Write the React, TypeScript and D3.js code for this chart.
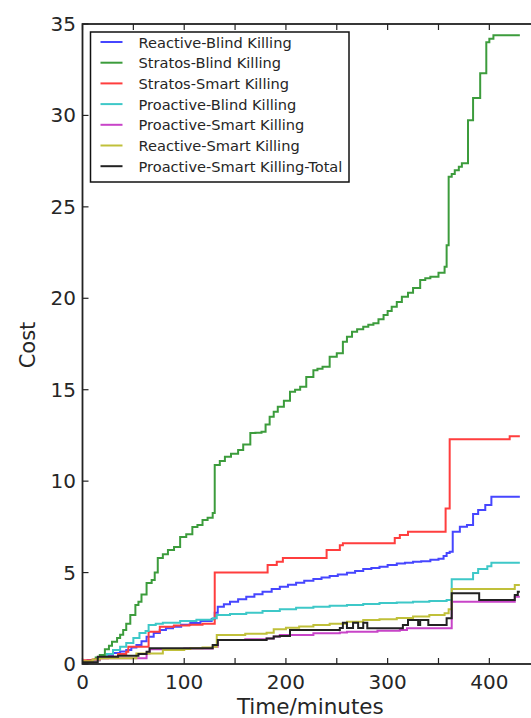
import * as d3 from 'd3';

// cost over time, step series: [minutes, cost]
const reactiveBlind: [number, number][] = [
  [0, 0.15], [5, 0.22], [12, 0.28], [17, 0.33], [24, 0.45], [30, 0.6], [37, 0.68], [43, 0.77], [48, 0.9],
  [53, 1.04], [58, 1.25], [63, 1.49], [70, 1.7], [76, 1.86], [82, 1.95], [89, 2.04], [97, 2.14], [106, 2.24],
  [116, 2.35], [127, 2.46], [130, 2.8], [133, 3.13], [139, 3.27], [145, 3.4], [153, 3.54], [161, 3.68],
  [169, 3.82], [177, 3.95], [186, 4.1], [194, 4.23], [202, 4.34], [210, 4.45], [218, 4.55], [227, 4.65],
  [235, 4.73], [243, 4.81], [251, 4.9], [260, 4.99], [268, 5.09], [276, 5.19], [284, 5.25], [292, 5.32],
  [300, 5.42], [309, 5.5], [317, 5.54], [325, 5.59], [333, 5.62], [342, 5.7], [350, 5.76], [355, 5.9],
  [358, 6.07], [361, 6.14], [364, 7.23], [371, 7.5], [378, 7.6], [384, 8.2], [389, 8.42], [396, 8.69],
  [402, 9.15], [430, 9.15],
];

const stratosBlind: [number, number][] = [
  [0, 0.1], [8, 0.2], [13, 0.35], [17, 0.49], [22, 0.8], [26, 1.0], [29, 1.22], [34, 1.42], [37, 1.6],
  [40, 1.86], [43, 2.2], [47, 2.68], [52, 3.23], [55, 3.4], [58, 3.8], [63, 4.43], [68, 4.6], [71, 5.0],
  [74, 5.8], [79, 6.0], [84, 6.23], [90, 6.4], [96, 6.94], [102, 7.1], [108, 7.49], [113, 7.6], [118, 7.87],
  [123, 8.0], [128, 8.26], [130, 10.88], [135, 11.1], [140, 11.33], [146, 11.5], [153, 11.7], [158, 12.0],
  [165, 12.63], [170, 12.65], [176, 12.7], [180, 13.1], [184, 13.52], [188, 13.8], [192, 14.07], [198, 14.4],
  [204, 14.89], [209, 15.0], [214, 15.16], [220, 15.7], [227, 16.07], [231, 16.15], [236, 16.25], [243, 16.8],
  [250, 17.0], [256, 17.62], [260, 17.9], [265, 18.17], [270, 18.3], [276, 18.44], [281, 18.55], [286, 18.64],
  [291, 18.85], [296, 19.08], [300, 19.3], [304, 19.54], [309, 19.8], [314, 20.08], [320, 20.3], [325, 20.56],
  [332, 21.0], [337, 21.1], [342, 21.18], [350, 21.4], [356, 21.72], [358, 22.9], [360, 26.64], [363, 26.8],
  [366, 27.0], [370, 27.2], [373, 27.39], [379, 29.74], [384, 30.95], [391, 32.31], [397, 34.0], [400, 34.2],
  [404, 34.39], [430, 34.39],
];

const stratosSmart: [number, number][] = [
  [0, 0.2], [10, 0.25], [17, 0.31], [25, 0.4], [35, 0.55], [43, 0.67], [45, 0.95], [65, 1.77], [76, 2.04],
  [90, 2.1], [105, 2.15], [118, 2.2], [130, 5.0], [182, 5.41], [191, 5.59], [197, 5.8], [240, 6.23],
  [253, 6.5], [256, 6.6], [307, 6.89], [312, 7.05], [320, 7.23], [357, 8.5], [361, 12.29], [420, 12.45],
  [430, 12.45],
];

const proactiveBlind: [number, number][] = [
  [0, 0.1], [10, 0.2], [17, 0.33], [24, 0.55], [30, 0.77], [37, 0.95], [43, 1.15], [50, 1.42], [56, 1.69],
  [62, 1.8], [65, 2.13], [72, 2.2], [79, 2.26], [96, 2.35], [112, 2.42], [128, 2.5], [132, 2.68], [145, 2.74],
  [161, 2.8], [177, 2.9], [194, 3.0], [210, 3.07], [227, 3.13], [243, 3.18], [260, 3.23], [276, 3.28],
  [292, 3.33], [309, 3.37], [325, 3.4], [341, 3.45], [358, 3.5], [363, 4.64], [384, 4.98], [389, 5.19],
  [398, 5.35], [402, 5.54], [430, 5.54],
];

const proactiveSmart: [number, number][] = [
  [0, 0.1], [10, 0.2], [17, 0.31], [63, 0.58], [66, 0.8], [100, 0.85], [128, 0.95], [133, 1.31], [160, 1.35],
  [181, 1.4], [188, 1.5], [194, 1.59], [227, 1.68], [253, 1.72], [260, 1.77], [290, 1.82], [312, 1.86],
  [319, 1.95], [361, 1.95], [363, 3.4], [425, 3.68], [430, 3.68],
];

const reactiveSmart: [number, number][] = [
  [0, 0.15], [10, 0.25], [17, 0.31], [53, 0.58], [79, 0.77], [100, 0.82], [106, 0.86], [118, 0.9],
  [128, 0.95], [132, 1.59], [160, 1.65], [181, 1.71], [188, 1.9], [200, 1.98], [213, 2.05], [227, 2.13],
  [243, 2.2], [260, 2.31], [276, 2.4], [292, 2.45], [309, 2.52], [325, 2.6], [341, 2.68], [356, 2.77],
  [360, 3.0], [363, 4.1], [425, 4.32], [430, 4.32],
];

const proactiveSmartTotal: [number, number][] = [
  [0, 0.1], [15, 0.4], [35, 0.45], [55, 0.55], [63, 0.67], [66, 0.86], [128, 1.04], [133, 1.31], [181, 1.4],
  [188, 1.5], [194, 1.53], [204, 1.86], [253, 1.97], [256, 2.25], [260, 1.97], [266, 2.25], [271, 1.97],
  [276, 2.25], [280, 1.95], [315, 2.13], [320, 2.41], [330, 2.13], [332, 2.41], [340, 2.13], [358, 2.5],
  [363, 3.87], [390, 3.5], [425, 3.77], [428, 3.95], [430, 3.95],
];

const seriesNames = [
  'Reactive-Blind Killing',
  'Stratos-Blind Killing',
  'Stratos-Smart Killing',
  'Proactive-Blind Killing',
  'Proactive-Smart Killing',
  'Reactive-Smart Killing',
  'Proactive-Smart Killing-Total',
];
const seriesData = [reactiveBlind, stratosBlind, stratosSmart, proactiveBlind, proactiveSmart, reactiveSmart, proactiveSmartTotal];
const seriesColors = ['#4646ff', '#3c9c3c', '#ff3e3e', '#3ec8c8', '#c844c8', '#c0c03a', '#222222'];

const xTicks = [0, 50, 100, 150, 200, 250, 300, 350, 400, 450];
const xTickLabels = [0, 100, 200, 300, 400];
const yTicks = [0, 5, 10, 15, 20, 25, 30, 35];

export default function App() {
  const width = 531;
  const height = 718;

  const x = d3.scaleLinear().domain([0, 450]).range([82.5, 540.2]);
  const y = d3.scaleLinear().domain([0, 35]).range([664, 24]);

  const line = d3.line<[number, number]>()
    .x(d => x(d[0]))
    .y(d => y(d[1]))
    .curve(d3.curveStepAfter);

  const [x0, x1] = x.range();
  const [yBottom, yTop] = y.range();
  const tickLen = 6;
  const font = "'DejaVu Sans', sans-serif";

  // legend box
  const lg = { x: 90.5, y: 32, w: 258.5, h: 150, row: 20.7 };

  return (
    <svg width={width} height={height} style={{ position: 'absolute', left: 0, top: 0, background: '#fff' }}
      fontFamily={font}>
      <defs>
        <clipPath id="plot">
          <rect x={x0} y={yTop} width={x1 - x0} height={yBottom - yTop} />
        </clipPath>
      </defs>

      <g clipPath="url(#plot)" fill="none" strokeWidth={2} strokeLinejoin="miter">
        {seriesData.map((d, i) => (
          <path key={seriesNames[i]} d={line(d) || ''} stroke={seriesColors[i]} />
        ))}
      </g>

      {/* ticks, pointing inwards */}
      <g stroke="#222" strokeWidth={1.2}>
        {xTicks.map(t => (
          <g key={'xt' + t}>
            <line x1={x(t)} x2={x(t)} y1={yBottom} y2={yBottom - tickLen} />
            <line x1={x(t)} x2={x(t)} y1={yTop} y2={yTop + tickLen} />
          </g>
        ))}
        {yTicks.map(t => (
          <line key={'yt' + t} x1={x0} x2={x0 + tickLen} y1={y(t)} y2={y(t)} />
        ))}
      </g>

      {/* spines */}
      <rect x={x0} y={yTop} width={x1 - x0} height={yBottom - yTop} fill="none" stroke="#222" strokeWidth={1.8} />

      {/* tick labels */}
      <g fontSize={20} fill="#262626">
        {xTickLabels.map(t => (
          <text key={'xl' + t} x={x(t)} y={689} textAnchor="middle">{t}</text>
        ))}
        {yTicks.map(t => (
          <text key={'yl' + t} x={76} y={y(t)} textAnchor="end" dominantBaseline="central">{t}</text>
        ))}
      </g>

      {/* axis labels */}
      <text x={(x0 + x1) / 2 - 1} y={714} textAnchor="middle" fontSize={21.5} fill="#262626">Time/minutes</text>
      <text transform="translate(35,345) rotate(-90)" textAnchor="middle" fontSize={21} fill="#262626">Cost</text>

      {/* legend */}
      <g>
        <rect x={lg.x} y={lg.y} width={lg.w} height={lg.h} fill="#fff" stroke="#111" strokeWidth={1.5} />
        {seriesNames.map((name, i) => {
          const cy = lg.y + 10 + i * lg.row;
          return (
            <g key={'lg' + name}>
              <line x1={lg.x + 10} x2={lg.x + 32} y1={cy} y2={cy} stroke={seriesColors[i]} strokeWidth={2} />
              <text x={lg.x + 48} y={cy} dominantBaseline="central" fontSize={14.6} fill="#262626">{name}</text>
            </g>
          );
        })}
      </g>
    </svg>
  );
}
